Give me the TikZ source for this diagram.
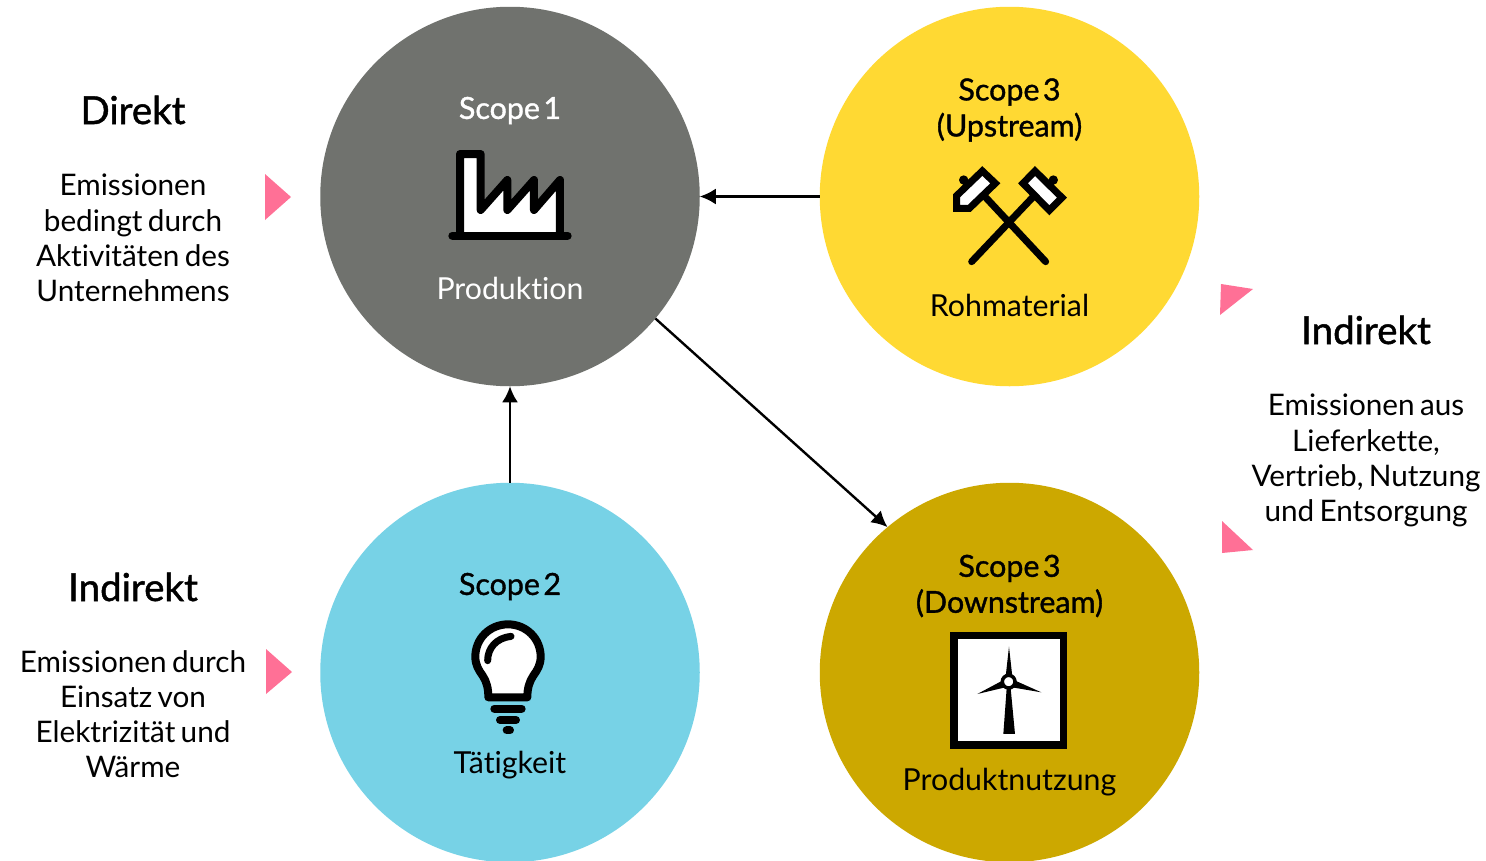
\documentclass[tikz,border=0pt]{standalone}
\usepackage{fontspec}
\setmainfont{Lato}[WordSpace=0.7,Ligatures=NoCommon]
\newfontfamily\semi{Lato}[FakeBold=1.2,WordSpace=0.45,Ligatures=NoCommon]
\usetikzlibrary{arrows.meta}
\definecolor{cgrey}{HTML}{70726E}
\definecolor{cyel}{HTML}{FFD933}
\definecolor{cblue}{HTML}{77D2E6}
\definecolor{cgold}{HTML}{CCA800}
\definecolor{cpink}{HTML}{FF7096}
\tikzset{
  disc/.style={circle,minimum size=379.5pt,inner sep=0pt,outer sep=0pt,draw=none},
  body/.style={align=center,inner sep=0pt,font=\fontsize{29.7}{35.2}\selectfont,text=black},
  lab/.style={align=center,inner sep=0pt,font=\fontsize{30.3}{36}\selectfont,text=black},
  head/.style={align=center,inner sep=0pt,font=\fontsize{38.5}{44}\semi,text=black},
  scopet/.style={align=center,inner sep=0pt,font=\fontsize{30.4}{36}\semi,text=black},
  flow/.style={draw=black,line width=2.4pt,-{Latex[length=16pt,width=16pt]}},
  tri/.style={fill=cpink,draw=none},
  ico/.style={draw=black,line width=8pt,line join=round,line cap=round},
}
\begin{document}
\begin{tikzpicture}[x=1pt,y=-1pt]
\useasboundingbox (0,0) rectangle (1486,860);
\fill[white] (0,0) rectangle (1486,860);
\begin{scope}
\clip (0,0) rectangle (1486,860);
\node[disc,fill=cgrey] (grey) at (510,196.5) {};
\node[disc,fill=cyel] (yel) at (1009.5,196.5) {};
\node[disc,fill=cblue] (blue) at (510,672.5) {};
\node[disc,fill=cgold] (gold) at (1009.5,672.5) {};
\end{scope}
\draw[flow] (yel.west) -- (grey.east);
\draw[flow] (blue.north) -- (grey.south);
\draw[flow] (grey.-40.2) -- (gold.130.2);
% triangles
\fill[tri] (265,174) -- (265,220) -- (291,197) -- cycle;
\fill[tri] (266,649) -- (266,694) -- (292,672) -- cycle;
\fill[tri] (1221,284) -- (1253,289) -- (1220,315) -- cycle;
\fill[tri] (1222,521) -- (1253,550) -- (1222,553) -- cycle;
% left and right text
\node[head] (t1) at (133,110) {Direkt};
\node[body,anchor=north] (t2) at (133,174) {Emissionen\\bedingt durch\\Aktivitäten des\\Unternehmens};
\node[head] (t3) at (133,587) {Indirekt};
\node[body,anchor=north] (t4) at (133,650) {Emissionen durch\\Einsatz von\\Elektrizität und\\Wärme};
\node[head] (t5) at (1366,330) {Indirekt};
\node[body,anchor=north] (t6) at (1366,394) {Emissionen aus\\Lieferkette,\\Vertrieb, Nutzung\\und Entsorgung};
% circle text
\node[scopet,text=white] (s1) at (510,110.5) {Scope 1};
\node[lab,text=white] (p1) at (510,288) {Produktion};
\node[scopet] (s3) at (1009.5,110) {Scope 3\\(Upstream)};
\node[lab] (p3) at (1009.5,305) {Rohmaterial};
\node[scopet] (s2) at (510,586.5) {Scope 2};
\node[lab] (p2) at (510,765) {Tätigkeit};
\node[scopet] (s4) at (1009.5,586) {Scope 3\\(Downstream)};
\node[lab] (p4) at (1009.5,782.5) {Produktnutzung};
% factory icon
\begin{scope}[shift={(420,130)},x=0.3333pt,y=-0.3333pt]
\filldraw[ico,fill=white] (120,317) -- (120,72) -- (182,72) -- (182,240) -- (262,150) -- (262,240) -- (342,150) -- (342,240) -- (420,150) -- (420,317);
\draw[ico] (97,317) -- (443,317);
\end{scope}
% hammers icon
\begin{scope}[shift={(930,150)},x=0.3333pt,y=-0.3333pt]
\draw[ico,line width=7pt] (125,335) -- (310,140);
\draw[ico,line width=7pt] (347,335) -- (165,140);
\fill (101,90) circle (14);
\fill (370,90) circle (14);
\draw[line width=7pt] (101,90) -- (115,105);
\draw[line width=7pt] (370,90) -- (356,105);
\filldraw[ico,line width=7pt,line join=miter,fill=white] (157,63) -- (196,100) -- (118,175) -- (80,175) -- (80,137) -- cycle;
\filldraw[ico,line width=7pt,line join=miter,fill=white] (315,63) -- (396,143) -- (358,181) -- (279,100) -- cycle;
\end{scope}
% bulb icon
\begin{scope}[shift={(450,610)},x=0.3333pt,y=-0.3333pt]
\filldraw[ico,fill=white] (115,262) -- (232,262) .. controls (232,235) and (238,215) .. (250,197) .. controls (262,180) and (272,165) .. (272,140) .. controls (272,86) and (229,43) .. (174,43) .. controls (119,43) and (76,86) .. (76,140) .. controls (76,165) and (86,180) .. (98,197) .. controls (110,215) and (115,235) .. (115,262) -- cycle;
\draw[ico,line width=7pt] (113,152) .. controls (113,115) and (138,84) .. (183,79);
\draw[ico,line width=8pt] (133,296) -- (215,296);
\draw[ico,line width=8pt] (150,330) -- (198,330);
\draw[ico,line width=8pt] (170,361) -- (180,361);
\end{scope}
% turbine icon
\begin{scope}[shift={(940,620)},x=0.3333pt,y=-0.3333pt]
\filldraw[draw=black,line width=7.5pt,fill=white] (41.5,46.5) rectangle (371,375);
\fill (200,205) -- (212,205) -- (225,342) -- (190,342) -- cycle;
\fill (207,80) -- (217,170) -- (197,170) -- cycle;
\fill (112,222) -- (185,183) -- (192,203) -- cycle;
\fill (304,217) -- (228,183) -- (222,203) -- cycle;
\filldraw[draw=black,line width=3.5pt,fill=white] (206,185) circle (19);
\end{scope}
\end{tikzpicture}
\end{document}
